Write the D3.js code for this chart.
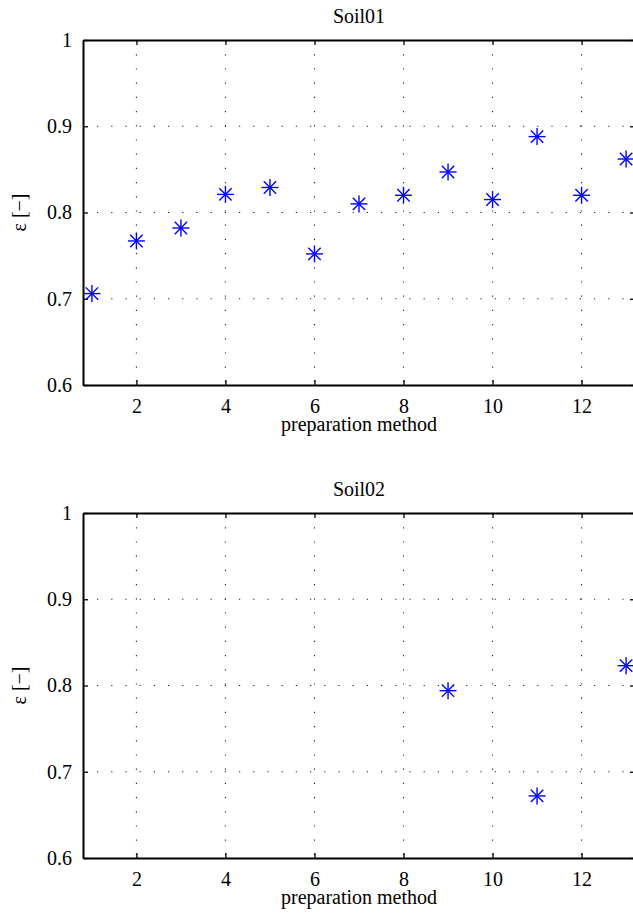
<!DOCTYPE html>
<html>
<head>
<meta charset="utf-8">
<script src="https://cdn.jsdelivr.net/npm/d3@7"></script>
<style>
  body { margin: 0; background: #fff; }
  svg { display: block; font-family: "Liberation Serif", "Times New Roman", serif; }
</style>
</head>
<body>
<script>
// data
var methods = [1, 2, 3, 4, 5, 6, 7, 8, 9, 10, 11, 12, 13];
var soil01 = [0.706, 0.767, 0.782, 0.821, 0.829, 0.752, 0.810, 0.820, 0.847, 0.815, 0.888, 0.820, 0.862];
var soil02Methods = [9, 11, 13];
var soil02 = [0.794, 0.672, 0.823];
var xTicks = [2, 4, 6, 8, 10, 12];
var yTicks = [0.6, 0.7, 0.8, 0.9, 1];
var titles = ["Soil01", "Soil02"];

var W = 633, H = 917;
var LEFT = 83;
var plotW = 552;
var plotH = 345;
var tops = [40, 513];

var svg = d3.select("body").append("svg")
  .attr("width", W)
  .attr("height", H);

var xScale = d3.scaleLinear().domain([0.8, 13.2]).range([0, plotW]);
var yScale = d3.scaleLinear().domain([0.6, 1]).range([plotH, 0]);

function panel(top, title, xs, ys) {
  var g = svg.append("g").attr("transform", "translate(" + LEFT + "," + top + ")");

  // dotted grid
  g.append("g").selectAll("line").data(xTicks).enter().append("line")
    .attr("x1", function (d) { return xScale(d); })
    .attr("x2", function (d) { return xScale(d); })
    .attr("y1", 0).attr("y2", plotH)
    .attr("stroke", "#222").attr("stroke-width", 1.1)
    .attr("stroke-dasharray", "1.2,13");
  g.append("g").selectAll("line").data([0.7, 0.8, 0.9]).enter().append("line")
    .attr("y1", function (d) { return yScale(d); })
    .attr("y2", function (d) { return yScale(d); })
    .attr("x1", 0).attr("x2", plotW)
    .attr("stroke", "#222").attr("stroke-width", 1.1)
    .attr("stroke-dasharray", "1.2,13")
    .attr("stroke-dashoffset", -14);

  // axes with inward ticks, on all four sides
  var bottomAxis = d3.axisBottom(xScale).tickValues(xTicks).tickSizeInner(-5).tickSizeOuter(0).tickPadding(14);
  var topAxis = d3.axisTop(xScale).tickValues(xTicks).tickSizeInner(-5).tickSizeOuter(0).tickFormat("");
  var leftAxis = d3.axisLeft(yScale).tickValues(yTicks).tickSizeInner(-5).tickSizeOuter(0).tickPadding(11)
    .tickFormat(function (d) { return d === 1 ? "1" : d3.format(".1f")(d); });
  var rightAxis = d3.axisRight(yScale).tickValues(yTicks).tickSizeInner(-5).tickSizeOuter(0).tickFormat("");

  var axes = [
    g.append("g").attr("transform", "translate(0," + plotH + ")").call(bottomAxis),
    g.append("g").call(topAxis),
    g.append("g").call(leftAxis),
    g.append("g").attr("transform", "translate(" + plotW + ",0)").call(rightAxis)
  ];
  axes.forEach(function (a) {
    a.select(".domain").attr("stroke", "#000").attr("stroke-width", 2);
    a.selectAll(".tick line").attr("stroke", "#000").attr("stroke-width", 1.3);
    a.selectAll("text").attr("fill", "#000").style("font-size", "20px")
      .style("font-family", "'Liberation Serif', serif");
  });

  // asterisk markers
  var pts = g.append("g").selectAll("g").data(xs).enter().append("g")
    .attr("transform", function (d, i) { return "translate(" + xScale(d) + "," + yScale(ys[i]) + ")"; });
  var s = 8.5, dg = 6.2;
  var segs = [[-s, 0, s, 0], [0, -s, 0, s], [-dg, -dg, dg, dg], [-dg, dg, dg, -dg]];
  segs.forEach(function (c) {
    pts.append("line")
      .attr("x1", c[0]).attr("y1", c[1]).attr("x2", c[2]).attr("y2", c[3])
      .attr("stroke", "#0000ff").attr("stroke-width", 1.4);
  });

  // title and labels
  svg.append("text")
    .attr("x", LEFT + plotW / 2).attr("y", top - 17)
    .attr("text-anchor", "middle").style("font-size", "20px")
    .text(title);
  svg.append("text")
    .attr("x", LEFT + plotW / 2).attr("y", top + plotH + 46)
    .attr("text-anchor", "middle").style("font-size", "20px")
    .text("preparation method");
  svg.append("text")
    .attr("transform", "translate(26," + (top + plotH / 2) + ") rotate(-90)")
    .attr("text-anchor", "middle").style("font-size", "20px")
    .text("ε [−]");
}

panel(tops[0], titles[0], methods, soil01);
panel(tops[1], titles[1], soil02Methods, soil02);
</script>
</body>
</html>
